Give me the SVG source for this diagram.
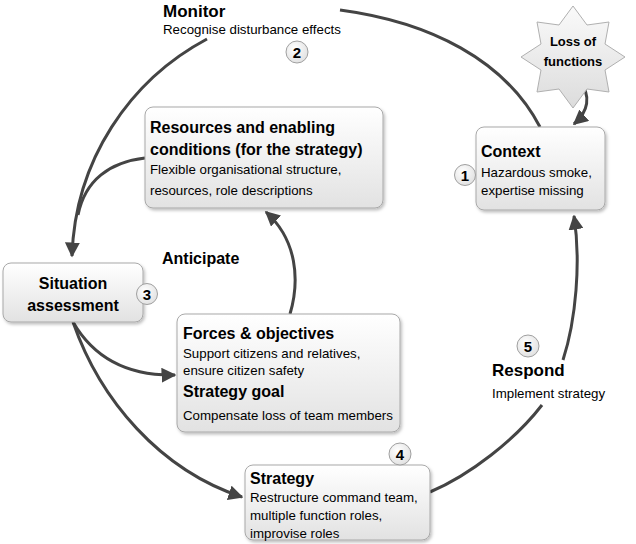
<svg xmlns="http://www.w3.org/2000/svg" width="636" height="544" viewBox="0 0 636 544">
<defs>
<linearGradient id="boxg" x1="0" y1="0" x2="0" y2="1">
<stop offset="0" stop-color="#ffffff"/>
<stop offset="1" stop-color="#e2e2e2"/>
</linearGradient>
<radialGradient id="circg" cx="0.4" cy="0.35" r="0.7">
<stop offset="0" stop-color="#ffffff"/>
<stop offset="1" stop-color="#e0e0e0"/>
</radialGradient>
<linearGradient id="starg" x1="0" y1="0" x2="0" y2="1">
<stop offset="0" stop-color="#fafafa"/>
<stop offset="1" stop-color="#dcdcdc"/>
</linearGradient>
<filter id="sh" x="-10%" y="-10%" width="125%" height="130%">
<feDropShadow dx="1.5" dy="2" stdDeviation="1.5" flood-color="#000" flood-opacity="0.25"/>
</filter>
<marker id="ah" viewBox="0 0 10 10" refX="9" refY="5" markerWidth="5" markerHeight="5" orient="auto" markerUnits="strokeWidth">
<path d="M0,0 L10,5 L0,10 z" fill="#444"/>
</marker>
</defs>
<style>
.box{fill:url(#boxg);stroke:#a8a8a8;stroke-width:1;filter:url(#sh)}
.num{fill:url(#circg);stroke:#a0a0a0;stroke-width:1}
.conn{fill:none;stroke:#444;stroke-width:3}
.h{font-family:"Liberation Sans",Arial,sans-serif;font-weight:bold;font-size:16px;fill:#000}
.t{font-family:"Liberation Sans",Arial,sans-serif;font-size:13.3px;fill:#000}
.n{font-family:"Liberation Sans",Arial,sans-serif;font-weight:bold;font-size:15px;fill:#000;text-anchor:middle}
</style>
<g id="connectors">
<path class="conn" d="M540,127 C505,60 430,22 340,10"/>
<path class="conn" d="M207,39 C130,80 75,160 72,256" marker-end="url(#ah)"/>
<path class="conn" d="M145,158 C110,162 85,180 78,215"/>
<path class="conn" d="M579,80 C592,96 588,112 574,124" marker-end="url(#ah)"/>
<path class="conn" d="M73,322 C95,360 130,376 175,375" marker-end="url(#ah)"/>
<path class="conn" d="M73,322 C100,400 160,470 242,497" marker-end="url(#ah)"/>
<path class="conn" d="M290,314 C300,280 297,240 266,212" marker-end="url(#ah)"/>
<path class="conn" d="M430,492 C470,475 515,440 542,405"/>
<path class="conn" d="M563,360 C576,320 581,262 574,216" marker-end="url(#ah)"/>
</g>
<g id="monitor">
<text class="h" x="163" y="17" style="font-size:17px">Monitor</text>
<text class="t" x="163" y="34">Recognise disturbance effects</text>
<circle class="num" cx="297" cy="52" r="11"/>
<text class="n" x="297" y="57.5">2</text>
</g>
<g id="loss">
<polygon points="573,6 587,25 609,22 605,44 625,57 605,70 609,92 587,89 573,108 559,89 537,92 541,70 521,57 541,44 537,22 559,25" fill="url(#starg)" stroke="#b0b0b0" stroke-width="1"/>
<text class="h" x="573" y="46" text-anchor="middle" style="font-size:13px">Loss of</text>
<text class="h" x="573" y="66" text-anchor="middle" style="font-size:13px">functions</text>
</g>
<g id="context">
<rect class="box" x="476" y="127" width="129" height="83" rx="8"/>
<text class="h" x="481" y="157">Context</text>
<text class="t" x="481" y="177">Hazardous smoke,</text>
<text class="t" x="481" y="195">expertise missing</text>
<circle class="num" cx="465" cy="175" r="10.5"/>
<text class="n" x="465" y="180.5">1</text>
</g>
<g id="resources">
<rect class="box" x="145" y="107" width="238" height="101" rx="8"/>
<text class="h" x="150" y="133">Resources and enabling</text>
<text class="h" x="150" y="155">conditions (for the strategy)</text>
<text class="t" x="150" y="174">Flexible organisational structure,</text>
<text class="t" x="150" y="195">resources, role descriptions</text>
</g>
<g id="situation">
<rect class="box" x="3" y="263" width="140" height="59" rx="8"/>
<text class="h" x="73" y="289" text-anchor="middle">Situation</text>
<text class="h" x="73" y="311" text-anchor="middle">assessment</text>
<circle class="num" cx="147" cy="294" r="10.5"/>
<text class="n" x="147" y="299.5">3</text>
</g>
<text id="anticipate" class="h" x="162" y="264">Anticipate</text>
<g id="forces">
<rect class="box" x="177" y="314" width="223" height="118" rx="8"/>
<text class="h" x="183" y="339">Forces &amp; objectives</text>
<text class="t" x="183" y="358">Support citizens and relatives,</text>
<text class="t" x="183" y="375">ensure citizen safety</text>
<text class="h" x="183" y="397">Strategy goal</text>
<text class="t" x="183" y="420">Compensate loss of team members</text>
</g>
<g id="strategy">
<rect class="box" x="245" y="465" width="185" height="75" rx="8"/>
<text class="h" x="250" y="484">Strategy</text>
<text class="t" x="250" y="502">Restructure command team,</text>
<text class="t" x="250" y="520">multiple function roles,</text>
<text class="t" x="250" y="538">improvise roles</text>
<circle class="num" cx="400" cy="454" r="11"/>
<text class="n" x="400" y="459.5">4</text>
</g>
<g id="respond">
<circle class="num" cx="528" cy="346" r="11"/>
<text class="n" x="528" y="351.5">5</text>
<text class="h" x="492" y="376" style="font-size:17px">Respond</text>
<text class="t" x="492" y="398">Implement strategy</text>
</g>
</svg>
